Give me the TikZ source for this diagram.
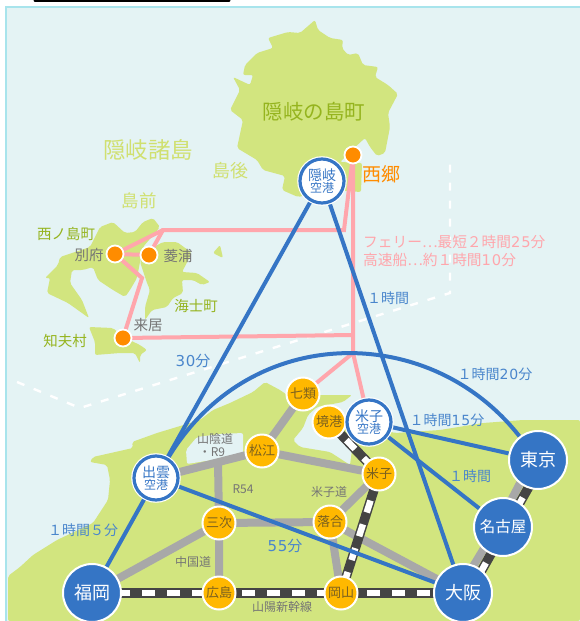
\documentclass[tikz,border=0pt]{standalone}
\usepackage{fontspec}
\setmainfont{Noto Sans CJK JP}
\newfontfamily\jp{Noto Sans CJK JP}
\newfontfamily\dg[LetterSpace=6]{DejaVu Sans}
\usetikzlibrary{calc}
\definecolor{sea}{HTML}{E4F3F4}
\definecolor{frameC}{HTML}{A8E4EC}
\definecolor{landC}{HTML}{D2E57F}
\definecolor{pinkC}{HTML}{FFA6AC}
\definecolor{blueC}{HTML}{3575C5}
\definecolor{blueT}{HTML}{4A86CC}
\definecolor{roadC}{HTML}{A8A8A8}
\definecolor{goldC}{HTML}{FFB800}
\definecolor{orgC}{HTML}{FF8C00}
\definecolor{railC}{HTML}{444444}
\definecolor{greyT}{HTML}{757575}
\definecolor{oliveT}{HTML}{95B41E}
\definecolor{paleT}{HTML}{D0E070}
\definecolor{goldT}{HTML}{7A6020}
\pgfdeclarelayer{land}
\pgfdeclarelayer{links}
\pgfsetlayers{land,links,main}
\tikzset{
  landshape/.style={fill=landC,draw=none,rounded corners=2pt},
  port/.style={circle,draw=white,line width=1.8pt,fill=orgC,minimum size=17pt,inner sep=0pt},
  town/.style={circle,draw=white,line width=2pt,fill=goldC,minimum size=33pt,inner sep=0pt,text=goldT,font=\jp\fontsize{13}{13}\selectfont},
  city/.style={circle,draw=white,line width=2pt,fill=blueC,minimum size=58pt,inner sep=0pt,text=white,font=\jp\fontsize{18}{18}\selectfont},
  airport/.style={circle,draw=blueC,line width=3.2pt,fill=white,minimum size=44pt,inner sep=0pt,text=blueC,align=center,
    preaction={draw=white,line width=5.5pt},font=\jp\fontsize{14}{13}\selectfont},
  pinkline/.style={draw=pinkC,line width=4pt,line join=miter},
  blueline/.style={draw=blueC,line width=4pt},
  road/.style={draw=roadC,line width=8pt},
  railbase/.style={draw=railC,line width=9.5pt},
  railtop/.style={draw=white,line width=6.5pt,dash pattern=on 12.5pt off 12.5pt},
  seaborder/.style={draw=white,line width=2.4pt,dash pattern=on 8pt off 10pt},
  lbl/.style={inner sep=0pt,font=\jp\fontsize{#1}{#1}\selectfont},
  lbl/.default=14
}
\begin{document}
\begin{tikzpicture}[x=1pt,y=-1pt]
\useasboundingbox (0,0) rectangle (580,621);
% nodes
\node[port] (saigo) at (353,155) {};
\node[port] (beppu) at (115,254) {};
\node[port] (hishi) at (149,255) {};
\node[port] (kurii) at (123,338) {};
\node[town] (nana) at (303,394) {七類};
\node[town] (sakai) at (329,422) {境港};
\node[town] (matsue) at (262,451) {松江};
\node[town] (yonago) at (379,474) {米子};
\node[town] (miyoshi) at (219,523) {三次};
\node[town] (ochiai) at (330,522) {落合};
\node[town] (hiro) at (219,593) {広島};
\node[town] (okay) at (341,593) {岡山};
\node[airport] (oki) at (322,181) {隠岐\\[-1pt]{\fontsize{12}{11}\selectfont 空港}};
\node[airport] (izumo) at (156,478) {出雲\\[-1pt]{\fontsize{12}{11}\selectfont 空港}};
\node[airport] (yapt) at (369,422) {米子\\[-1pt]{\fontsize{12}{11}\selectfont 空港}};
\node[city] (fuku) at (92,593) {福岡};
\node[city] (osaka) at (463,593) {大阪};
\node[city,font=\jp\fontsize{15.5}{15.5}\selectfont] (nago) at (503,527) {名古屋};
\node[city] (tokyo) at (538,460) {東京};
\coordinate (pinkA) at (353,353);
\coordinate (pinkB) at (344,230);
\coordinate (pinkC1) at (163,230);
\coordinate (pinkD) at (142,278);
\coordinate (pinkE) at (353,335);
\coordinate (jct) at ($(izumo)!0.585!(matsue)$);
\coordinate (dashA) at (17,382);
\coordinate (dashB) at (80,408);
\coordinate (dashC) at (450,293);
\coordinate (dashD) at (450,155);
\begin{pgfonlayer}{land}
% panel
\fill[sea] (6,7) rectangle (580,621);
\draw[frameC,line width=2pt] (6,621) -- (6,7) -- (580,7);
\draw[black,line width=3pt,line cap=round] (35,0) -- (229,0);
% Dogo
\path[landshape] (315,20) -- (318,30) -- (330,38) -- (343,40) -- (342,48) -- (348,55) -- (358,53) -- (363,65) -- (378,67) -- (375,77) -- (388,85) -- (398,94) -- (388,113) -- (390,127) -- (385,153) -- (377,156) -- (370,147) -- (365,138) -- (352,150) -- (340,162) -- (362,163) -- (361,192) -- (330,190) -- (298,197) -- (282,190) -- (285,176) -- (263,170) -- (257,160) -- (237,148) -- (243,120) -- (230,110) -- (240,90) -- (233,77) -- (250,85) -- (253,75) -- (243,75) -- (245,65) -- (257,53) -- (273,48) -- (268,38) -- (288,32) -- (300,33) -- cycle;
% Nishinoshima
\path[landshape] (100,227) -- (113,222) -- (125,233) -- (135,232) -- (143,222) -- (153,218) -- (160,227) -- (155,233) -- (143,247) -- (140,262) -- (137,278) -- (130,290) -- (125,297) -- (113,290) -- (98,280) -- (93,267) -- (83,270) -- (72,270) -- (70,283) -- (82,300) -- (89,318) -- (68,303) -- (47,293) -- (50,278) -- (45,278) -- (58,265) -- (60,257) -- (72,253) -- (90,247) -- cycle;
% Nakanoshima
\path[landshape] (140,262) -- (143,253) -- (163,242) -- (177,242) -- (192,253) -- (182,272) -- (197,273) -- (210,282) -- (202,285) -- (193,280) -- (182,280) -- (183,293) -- (173,298) -- (167,307) -- (152,310) -- (145,320) -- (145,307) -- (150,290) -- (147,283) -- cycle;
\path[landshape] (213,253) -- (220,245) -- (223,258) -- cycle;
% Chiburi
\path[landshape] (89,327) -- (113,328) -- (123,337) -- (140,345) -- (147,350) -- (140,355) -- (140,363) -- (135,353) -- (120,353) -- (95,355) -- (95,342) -- cycle;
% Mainland
\path[landshape] (8,621) -- (8,576) -- (20,567) -- (33,555) -- (57,540) -- (93,523) -- (108,500) -- (110,480) -- (107,465) -- (90,462) -- (93,457) -- (133,448) -- (132,442) -- (157,433) -- (200,420) -- (213,410) -- (230,403) -- (253,392) -- (265,382) -- (280,390) -- (290,397) -- (320,395) -- (352,395) -- (343,402) -- (317,407) -- (308,415) -- (303,428) -- (293,440) -- (300,447) -- (330,452) -- (350,465) -- (352,450) -- (342,438) -- (345,425) -- (365,425) -- (395,433) -- (440,430) -- (483,423) -- (523,420) -- (580,420) -- (580,621) -- cycle;
% Shinji lake
\fill[sea,rounded corners=2pt] (186,450) -- (197,437) -- (220,434) -- (243,433) -- (243,455) -- (187,464) -- cycle;
% dashed sea borders
\draw[seaborder] (dashA) -- (dashB) -- (dashC) -- (dashD);
\end{pgfonlayer}
\begin{pgfonlayer}{links}
% ferries
\draw[pinkline] (saigo.center) -- (pinkA) -- (nana.center);
\draw[pinkline] (pinkA) -- (yapt.center);
\draw[pinkline] (saigo.center) -- (pinkB) -- (pinkC1) -- (hishi.center);
\draw[pinkline] (pinkC1) -- (beppu.center) -- (hishi.center);
\draw[pinkline] (beppu.center) -- (pinkD) -- (kurii.center) -- (pinkE);
% roads
\draw[road] (izumo) -- (matsue.center) -- (yonago.center) -- (ochiai.center) -- (osaka.center);
\draw[road] (matsue.center) -- (nana.center);
\draw[road] (jct) -- (miyoshi.center) -- (hiro.center);
\draw[road] (fuku.center) -- (miyoshi.center) -- (ochiai.center) -- (okay.center);
\draw[road] ([shift={(-4.5,-2.6)}]osaka.center) -- ([shift={(-4.5,-2.6)}]nago.center);
\draw[road] ([shift={(-4.5,-2.6)}]nago.center) -- ([shift={(-4.5,-2.6)}]tokyo.center);
% rails
\draw[railbase] (fuku.center) -- (osaka.center);
\draw[railtop] (fuku.center) -- (osaka.center);
\draw[railbase] (sakai.center) -- (yonago.center) -- (okay.center);
\draw[railtop] (sakai.center) -- (yonago.center) -- (okay.center);
\draw[railbase] ([shift={(4.5,2.6)}]osaka.center) -- ([shift={(4.5,2.6)}]tokyo.center);
\draw[railtop] ([shift={(4.5,2.6)}]osaka.center) -- ([shift={(4.5,2.6)}]tokyo.center);
% flights
\draw[blueline] (oki) -- (izumo);
\draw[blueline] (oki) -- (osaka);
\draw[blueline] (izumo) -- (fuku);
\draw[blueline] (izumo) -- (osaka);
\draw[blueline] (izumo) .. controls (250,322) and (430,322) .. (tokyo);
\draw[blueline] (yapt) -- (tokyo);
\draw[blueline] (yapt) -- (nago);
\end{pgfonlayer}
% labels
\node[lbl=20.5,text=oliveT] (t1) at (314,112) {隠岐の島町};
\node[lbl=22.5,text=paleT] (t2) at (148,150) {隠岐諸島};
\node[lbl=18,text=paleT] (t3) at (230,171) {島後};
\node[lbl=17.5,text=paleT] (t4) at (139,201) {島前};
\node[lbl=19,text=orgC] (t5) at (381,174) {西郷};
\node[lbl=14.5,text=oliveT] (t6) at (66,234) {西ノ島町};
\node[lbl=14.5,text=greyT] (t7) at (89,255) {別府};
\node[lbl=14.5,text=greyT] (t8) at (178,256) {菱浦};
\node[lbl=14.5,text=oliveT] (t9) at (196,306) {海士町};
\node[lbl=14.5,text=greyT] (t10) at (148,325) {来居};
\node[lbl=14.5,text=oliveT] (t11) at (65,341) {知夫村};
\node[lbl=15,text=blueT] (t12) at (193,361) {{\dg 30}分};
\node[lbl=14.7,text=pinkC,anchor=west] (t13) at (363,242) {フェリー⋯最短２時間{\dg 25}分};
\node[lbl=14.7,text=pinkC,anchor=west] (t14) at (363,260) {高速船⋯約１時間{\dg 10}分};
\node[lbl=14,text=blueT] (t15) at (388,298) {１時間};
\node[lbl=14,text=blueT] (t16) at (495,374) {１時間{\dg 20}分};
\node[lbl=14,text=blueT] (t17) at (447,420) {１時間{\dg 15}分};
\node[lbl=14,text=blueT] (t18) at (470,476) {１時間};
\node[lbl=14,text=blueT] (t19) at (83,530) {１時間５分};
\node[lbl=15,text=blueT] (t20) at (285,546) {{\dg 55}分};
\node[lbl=12,text=greyT] (t21) at (215,439) {山陰道};
\node[lbl=12,text=greyT] (t22) at (212,452) {・R9};
\node[lbl=12,text=greyT] (t23) at (243,489) {R54};
\node[lbl=12,text=greyT] (t24) at (193,562) {中国道};
\node[lbl=12,text=greyT] (t25) at (282,607) {山陽新幹線};
\node[lbl=12,text=greyT] (t26) at (329,492) {米子道};
\end{tikzpicture}
\end{document}
